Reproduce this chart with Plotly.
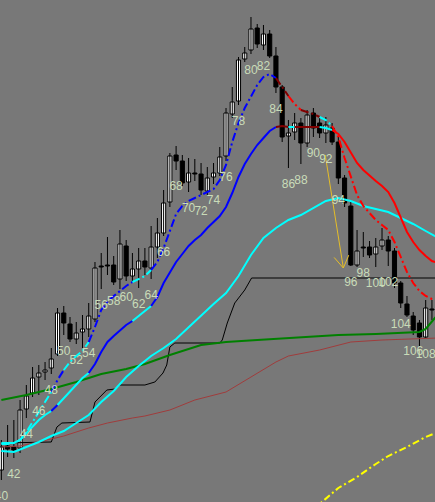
import math
import plotly.graph_objects as go

# номера баров
bars = list(range(40, 111))

# свечи (цена в пунктах)
opens = [32, 56, 55, 54, 93, 109, 125, 130, 134, 148,
         189, 178, 163, 170, 173, 183, 236, 237, 237, 223,
         256, 226, 233, 241, 234, 255, 269, 300, 347, 341,
         320, 329, 328, 311, 325, 329, 346, 388, 401, 443,
         452, 474, 457, 468, 446, 415, 366, 370, 379, 359,
         389, 379, 369, 374, 360, 324, 296, 237, 255, 255,
         248, 256, 262, 251, 219, 198, 186, 179, 165, 193,
         192]
highs = [62, 77, 82, 102, 117, 135, 137, 140, 154, 194,
         196, 185, 180, 187, 199, 240, 249, 265, 246, 272,
         262, 249, 254, 254, 276, 284, 312, 349, 356, 347,
         344, 343, 339, 335, 339, 355, 394, 415, 445, 455,
         485, 478, 477, 472, 455, 417, 382, 389, 384, 392,
         394, 384, 385, 379, 365, 327, 302, 272, 270, 261,
         264, 274, 266, 254, 221, 206, 190, 182, 202, 202,
         204]
lows = [22, 45, 44, 49, 84, 105, 107, 122, 128, 146,
        167, 160, 158, 154, 165, 180, 213, 227, 217, 213,
        221, 220, 214, 227, 223, 244, 266, 295, 332, 316,
        310, 321, 307, 307, 318, 326, 341, 384, 397, 440,
        448, 454, 452, 444, 409, 360, 334, 362, 338, 355,
        365, 364, 359, 357, 318, 295, 236, 235, 245, 244,
        235, 252, 236, 214, 194, 185, 167, 155, 164, 182,
        185]
closes = [55, 53, 52, 92, 106, 124, 129, 132, 143, 189,
          179, 163, 169, 173, 186, 234, 235, 236, 220, 258,
          226, 233, 241, 235, 255, 269, 299, 346, 341, 319,
          329, 328, 312, 324, 329, 345, 389, 400, 442, 449,
          473, 458, 468, 446, 415, 365, 369, 379, 359, 387,
          374, 369, 377, 360, 324, 299, 237, 251, 254, 247,
          255, 262, 251, 219, 199, 187, 172, 165, 194, 192,
          197]

# быстрая МА (штрих-пунктир), по барам 40..110
fast_ma = [58, 58, 59, 62, 70, 80, 90, 100, 110, 122,
           132, 140, 146, 151, 160, 175, 192, 200, 206, 211,
           216, 220, 223, 226, 232, 240, 254, 271, 288, 296,
           301, 304, 307, 310, 313, 322, 337, 360, 379, 394,
           406, 417, 425, 428, 424, 415, 406, 398, 392, 390,
           388, 385, 382, 376, 365, 344, 325, 307, 296, 289,
           282, 277, 272, 260, 244, 230, 219, 211, 206, 203,
           202]
# средняя МА (сплошная)
mid_ma = [59, 59, 59, 62, 69, 76, 82, 87, 91, 97,
          104, 111, 118, 124, 129, 138, 150, 160, 166, 172,
          177, 181, 186, 191, 196, 205, 219, 230, 240, 248,
          256, 262, 267, 274, 280, 286, 295, 309, 325, 338,
          348, 357, 364, 371, 375, 376, 375, 375, 375, 375,
          375, 375, 374, 372, 368, 360, 349, 339, 332, 326,
          321, 316, 310, 299, 284, 270, 260, 252, 246, 241,
          239]
# цвета участков: (от бара, до бара, цвет)
fast_colors = [(40, 48, "#00ffff"), (48, 50, "#0000ff"), (50, 54, "#00ffff"),
               (54, 61, "#0000ff"), (61, 64, "#00ffff"), (64, 84, "#0000ff"),
               (84, 86, "#800000"), (86, 88, "#ff0000"), (88, 91, "#800000"),
               (91, 93, "#00ffff"), (93, 110, "#ff0000")]
mid_colors = [(40, 48, "#00ffff"), (48, 49, "#0000ff"), (49, 54, "#00ffff"),
              (54, 61, "#0000ff"), (61, 64, "#00ffff"), (64, 84, "#0000ff"),
              (84, 86, "#800000"), (86, 87, "#00ffff"), (87, 91, "#800000"),
              (91, 93, "#00ffff"), (93, 110, "#ff0000")]

# медленная МА (голубая)
slow_x = list(range(40, 111, 2))
slow_ma = [51, 50, 55, 60, 66, 71, 79, 87, 100, 111,
           125, 136, 146, 154, 163, 175, 186, 198, 209, 226,
           247, 264, 274, 282, 287, 294, 301, 304, 301, 296,
           293, 290, 284, 278, 271, 264]

# зелёная МА
green_x = [40, 44, 48, 52, 56, 60, 63, 67, 72, 76, 81, 88, 94, 100, 107, 108, 109, 110]
green_ma = [102, 107, 113, 120, 128, 133, 138, 147, 157, 160, 162, 165, 167, 168, 170, 173, 181, 188]

# тонкая коричневая
brown_x = [40, 43, 48, 50, 54, 57, 61, 63, 67, 71, 76, 81, 84, 86, 91, 96, 101, 110]
brown_ma = [55, 56, 63, 66, 74, 79, 84, 86, 92, 102, 110, 129, 140, 146, 152, 160, 162, 164]

# чёрная ступенчатая
black_x = [40, 48, 48.9, 49.7, 54.2, 55, 56.9, 58.2, 59, 63, 64.6, 65.9, 66.5, 67, 67.8,
           75, 75.4, 76.2, 77.4, 78.2, 79, 80.1, 110]
black_line = [59, 60, 75, 79, 80, 100, 112, 113, 117, 117, 120, 129, 137, 155, 159,
              159, 162, 179, 199, 205, 212, 224, 224]

# жёлтая штрих-пунктирная
yellow_x = [90, 91, 94, 97, 100, 102, 105, 108, 110]
yellow_line = [-8, -2, 14, 25, 38, 46, 55, 65, 70]

# стрелка (начало, конец)
arrow_x = [91.9, 94.8]
arrow_y = [347, 234]

BG = "#787878"
LABEL_COLOR = "#c9dcb9"
ARROW_COLOR = "#e6be28"
X_RANGE = [39.78, 109.49]
Y_RANGE = [0, 502]
W, H = 435, 502

fig = go.Figure()

# тени свечей
wick_x, wick_y = [], []
for b, h, l in zip(bars, highs, lows):
    wick_x += [b, b, None]
    wick_y += [l, h, None]
fig.add_trace(go.Scatter(x=wick_x, y=wick_y, mode="lines",
                         line=dict(color="black", width=1), hoverinfo="skip"))

# тела свечей
body_base = [min(o, c) for o, c in zip(opens, closes)]
body_h = [max(abs(c - o), 1) for o, c in zip(opens, closes)]
body_col = ["white" if c >= o else "black" for o, c in zip(opens, closes)]
fig.add_trace(go.Bar(x=bars, y=body_h, base=body_base, width=0.66,
                     marker=dict(color=body_col, line=dict(color="black", width=1)),
                     hoverinfo="skip"))


def add_line(xs, ys, color, width, dash="solid"):
    fig.add_trace(go.Scatter(x=xs, y=ys, mode="lines",
                             line=dict(color=color, width=width, dash=dash),
                             hoverinfo="skip"))


def add_colored(xs, ys, parts, width, dash):
    for lo, hi, color in parts:
        sx = [x for x in xs if lo <= x <= hi]
        sy = [y for x, y in zip(xs, ys) if lo <= x <= hi]
        add_line(sx, sy, color, width, dash)


add_line(black_x, black_line, "black", 1)
add_line(brown_x, brown_ma, "#a03c3c", 1)
add_line(green_x, green_ma, "#008000", 2)
add_line(slow_x, slow_ma, "#00ffff", 2)
add_colored(bars, mid_ma, mid_colors, 2, "solid")
add_colored(bars, fast_ma, fast_colors, 2, "8px,3px,2px,3px")
add_line(yellow_x, yellow_line, "#ffff00", 2, "7px,3px,2px,3px")

# стрелка: линия + открытый наконечник "V"
kx = W / (X_RANGE[1] - X_RANGE[0])   # пикселей на бар
ky = H / (Y_RANGE[1] - Y_RANGE[0])   # пикселей на пункт
dx = (arrow_x[0] - arrow_x[1]) * kx
dy = (arrow_y[0] - arrow_y[1]) * ky
ang = math.atan2(dy, dx)
head_x, head_y = [], []
for s in (-1, 1):
    a = ang + s * math.radians(32)
    head_x += [arrow_x[1] + 14 * math.cos(a) / kx, arrow_x[1], None]
    head_y += [arrow_y[1] + 14 * math.sin(a) / ky, arrow_y[1], None]
add_line(arrow_x, arrow_y, ARROW_COLOR, 1)
add_line(head_x, head_y, ARROW_COLOR, 1)

# подписи номеров баров (чётные)
lab_x = [b for b in bars if b % 2 == 0]
lab_y = [lo - 17 for b, lo in zip(bars, lows) if b % 2 == 0]
fig.add_trace(go.Scatter(
    x=lab_x, y=lab_y, mode="text", text=[str(b) for b in lab_x],
    textfont=dict(family="Liberation Sans, Arial", size=12, color=LABEL_COLOR),
    cliponaxis=False, hoverinfo="skip"))

fig.update_layout(
    width=W, height=H,
    margin=dict(l=0, r=0, t=0, b=0),
    paper_bgcolor=BG, plot_bgcolor=BG,
    showlegend=False,
    xaxis=dict(range=X_RANGE, visible=False),
    yaxis=dict(range=Y_RANGE, visible=False),
)

fig.write_html("out.html", config={"displayModeBar": False},
               post_script="document.body.style.margin='0';")
